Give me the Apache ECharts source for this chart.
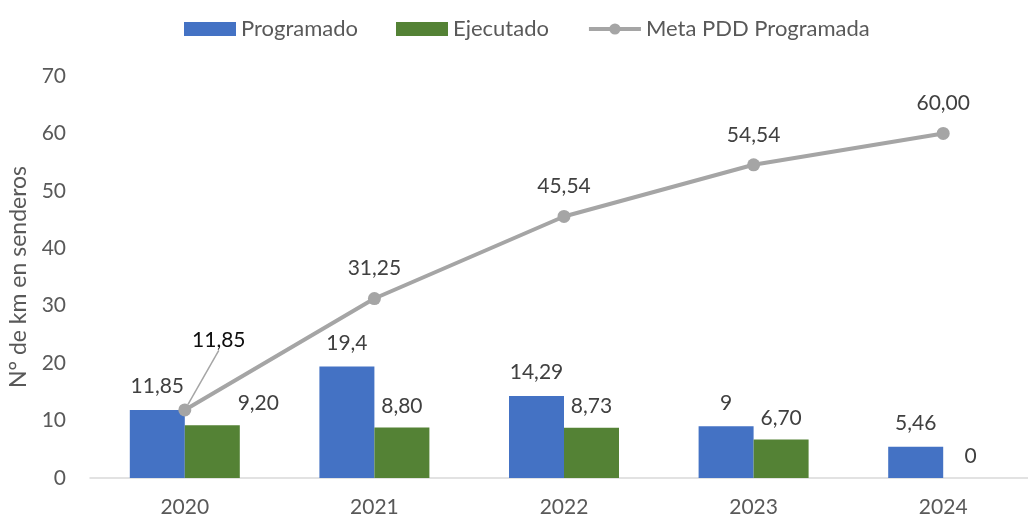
<!DOCTYPE html>
<html>
<head>
<meta charset="utf-8">
<script src="https://cdn.jsdelivr.net/npm/echarts@6/dist/echarts.min.js"></script>
<style>
  html, body { margin: 0; padding: 0; background: #fff; }
  #chart { width: 1028px; height: 516px; }
</style>
</head>
<body>
<div id="chart"></div>
<script>
// datos
const years = ['2020', '2021', '2022', '2023', '2024']
const programado = [11.85, 19.4, 14.29, 9, 5.46]
const ejecutado = [9.20, 8.80, 8.73, 6.70, 0]
const meta = [11.85, 31.25, 45.54, 54.54, 60.00]

const FONT = 'Lato, "Open Sans", sans-serif'
const coma = v => String(v).replace('.', ',')
const dos = v => (v === 0 ? '0' : v.toFixed(2).replace('.', ','))

const chart = echarts.init(document.getElementById('chart'))
const option = {
  animation: false,
  textStyle: { fontFamily: FONT },
  legend: {
    top: 13,
    left: 179,
    itemWidth: 52,
    itemHeight: 14,
    itemGap: 38,
    textStyle: { fontSize: 22, color: '#595959', fontFamily: FONT },
    data: [
      { name: 'Programado', icon: 'rect' },
      { name: 'Ejecutado', icon: 'rect' },
      {
        name: 'Meta PDD Programada',
        lineStyle: { width: 4, color: '#A5A5A5' },
        itemStyle: { color: '#A5A5A5' }
      }
    ]
  },
  grid: { left: 90, top: 76, bottom: 38, width: 948, outerBoundsMode: 'none' },
  xAxis: {
    type: 'category',
    data: years,
    axisLine: { lineStyle: { color: '#D9D9D9', width: 1.5 } },
    axisTick: { show: false },
    axisLabel: { fontSize: 21, color: '#595959', margin: 19, fontFamily: FONT }
  },
  yAxis: {
    type: 'value',
    min: 0,
    max: 70,
    interval: 10,
    name: 'N° de km en senderos',
    nameLocation: 'middle',
    nameGap: 60,
    nameTextStyle: { fontSize: 23, color: '#595959', fontFamily: FONT },
    axisLine: { show: false },
    axisTick: { show: false },
    splitLine: { show: false },
    axisLabel: { fontSize: 21, color: '#595959', margin: 24, fontFamily: FONT }
  },
  series: [
    {
      name: 'Programado',
      type: 'bar',
      data: programado,
      barWidth: 55,
      barGap: '0%',
      itemStyle: { color: '#4472C4' },
      label: {
        show: true,
        position: 'top',
        distance: 13,
        fontSize: 21,
        color: '#404040',
        fontFamily: FONT,
        formatter: p => coma(p.value)
      }
    },
    {
      name: 'Ejecutado',
      type: 'bar',
      data: ejecutado.map((v, i) => i === 0
        ? { value: v, label: { offset: [46, 0] } }
        : v),
      barWidth: 55,
      barGap: '0%',
      itemStyle: { color: '#548235' },
      label: {
        show: true,
        position: 'top',
        distance: 11,
        fontSize: 21,
        color: '#404040',
        fontFamily: FONT,
        formatter: p => dos(p.value)
      }
    },
    {
      name: 'Meta PDD Programada',
      type: 'line',
      data: meta.map((v, i) => i === 0
        ? {
            value: v,
            label: { color: '#0D0D0D' },
            labelLine: { show: true, lineStyle: { color: '#A5A5A5', width: 1.5 } }
          }
        : v),
      symbol: 'circle',
      symbolSize: 13,
      lineStyle: { color: '#A5A5A5', width: 4 },
      itemStyle: { color: '#A5A5A5' },
      label: {
        show: true,
        position: 'top',
        distance: 13,
        fontSize: 21,
        color: '#404040',
        fontFamily: FONT,
        formatter: p => dos(p.value)
      },
      labelLine: { show: false },
      labelLayout: function (params) {
        if (params.dataIndex === 0) return { dx: 34, dy: -40 }
        return {}
      },
      z: 5
    }
  ]
}
chart.setOption(option)
</script>
</body>
</html>
